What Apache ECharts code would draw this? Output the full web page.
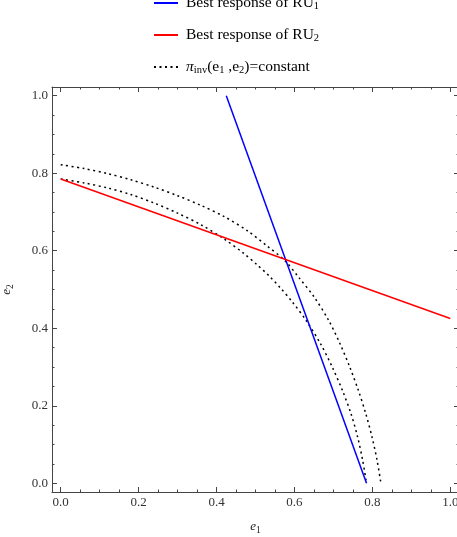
<!DOCTYPE html>
<html>
<head>
<meta charset="utf-8">
<script src="https://cdn.jsdelivr.net/npm/echarts@6/dist/echarts.min.js"></script>
<style>
  html, body { margin: 0; padding: 0; background: #fff; }
  #chart { width: 457px; height: 537px; }
</style>
</head>
<body>
<div id="chart"></div>
<script>
// 数据
const ru1Line = [[0.425, 1.0], [0.785, 0.0]];
const ru2Line = [[0.0, 0.785], [1.0, 0.425]];
const isoOuter = [
  [0, 0.822], [0.06, 0.812], [0.12, 0.799], [0.18, 0.783], [0.24, 0.764],
  [0.30, 0.742], [0.36, 0.717], [0.42, 0.688], [0.48, 0.651], [0.53, 0.612],
  [0.575, 0.575],
  [0.612, 0.53], [0.651, 0.48], [0.688, 0.42], [0.717, 0.36], [0.742, 0.30],
  [0.764, 0.24], [0.783, 0.18], [0.799, 0.12], [0.812, 0.06], [0.822, 0]
];
const isoInner = [
  [0, 0.785], [0.06, 0.775], [0.12, 0.762], [0.18, 0.745], [0.24, 0.723],
  [0.30, 0.697], [0.36, 0.667], [0.42, 0.630], [0.47, 0.593], [0.505, 0.563],
  [0.535, 0.535],
  [0.563, 0.505], [0.593, 0.47], [0.630, 0.42], [0.667, 0.36], [0.697, 0.30],
  [0.723, 0.24], [0.745, 0.18], [0.762, 0.12], [0.775, 0.06], [0.785, 0]
];
const majorTicks = [0, 0.2, 0.4, 0.6, 0.8, 1.0];
const minorTicks = [0.05, 0.1, 0.15, 0.25, 0.3, 0.35, 0.45, 0.5, 0.55, 0.65, 0.7, 0.75, 0.85, 0.9, 0.95];

const AX_MIN = -0.0224;
const AX_MAX = 1.0224;
const FRAME = '#444';
const SERIF = '"Liberation Serif", "DejaVu Serif", serif';

const legendRich = {
  sub: { fontSize: 10.5, fontFamily: SERIF, verticalAlign: 'bottom', padding: [7, 0, 0, 0], color: '#000' },
  it: { fontSize: 15.5, fontFamily: SERIF, fontStyle: 'italic', color: '#000' },
  n: { fontSize: 15.5, fontFamily: SERIF, color: '#000' }
};
const nameRich = {
  sub: { fontSize: 9.5, fontFamily: SERIF, verticalAlign: 'bottom', padding: [6, 0, 0, 0], color: '#222' },
  it: { fontSize: 13, fontFamily: SERIF, fontStyle: 'italic', color: '#222' }
};

// 一个方向上的坐标轴（主刻度 / 次刻度）
function makeAxis(position, ticks, len, showLine, showLabel, extra) {
  return Object.assign({
    type: 'value',
    position: position,
    min: AX_MIN,
    max: AX_MAX,
    splitLine: { show: false },
    axisLine: { show: showLine, onZero: false, lineStyle: { color: FRAME, width: 1 } },
    axisTick: { show: true, inside: true, length: len, customValues: ticks, lineStyle: { color: FRAME, width: 1 } },
    axisLabel: showLabel ? {
      customValues: majorTicks,
      margin: 4,
      color: '#333',
      fontFamily: SERIF,
      fontSize: 13,
      formatter: v => v.toFixed(1)
    } : { show: false }
  }, extra || {});
}

const chart = echarts.init(document.getElementById('chart'));
chart.setOption({
  animation: false,
  backgroundColor: '#fff',
  grid: { left: 52, right: -2, top: 87, bottom: 45, containLabel: false, outerBoundsMode: 'none' },
  legend: {
    orient: 'vertical',
    left: 153,
    top: -5,
    padding: 0,
    itemWidth: 24,
    itemHeight: 14,
    itemGap: 15,
    data: ['ru1', 'ru2', 'iso'],
    itemStyle: { color: 'transparent', borderWidth: 0, opacity: 0 },
    formatter: function (name) {
      if (name === 'ru1') return '{n|Best response of RU}{sub|1}';
      if (name === 'ru2') return '{n|Best response of RU}{sub|2}';
      return '{it|π}{sub|inv}{n|(e}{sub|1}{n| ,e}{sub|2}{n|)=constant}';
    },
    textStyle: { fontFamily: SERIF, fontSize: 15.5, color: '#000', padding: [0, 0, 0, 3], rich: legendRich }
  },
  xAxis: [
    makeAxis('bottom', majorTicks, 5, true, true, {
      name: '{it|e}{sub|1}',
      nameLocation: 'middle',
      nameGap: 27,
      nameTextStyle: { rich: nameRich }
    }),
    makeAxis('bottom', minorTicks, 2.5, false, false),
    makeAxis('top', majorTicks, 5, true, false),
    makeAxis('top', minorTicks, 2.5, false, false)
  ],
  yAxis: [
    makeAxis('left', majorTicks, 5, true, true, {
      name: '{it|e}{sub|2}',
      nameLocation: 'middle',
      nameGap: 37,
      nameTextStyle: { rich: nameRich }
    }),
    makeAxis('left', minorTicks, 2.5, false, false),
    makeAxis('right', majorTicks, 5, true, false),
    makeAxis('right', minorTicks, 2.5, false, false)
  ],
  series: [
    {
      name: 'ru1',
      type: 'line',
      data: ru1Line,
      symbol: 'none',
      lineStyle: { color: '#0000ff', width: 1.5 },
      itemStyle: { color: '#0000ff' },
      z: 3
    },
    {
      name: 'ru2',
      type: 'line',
      data: ru2Line,
      symbol: 'none',
      lineStyle: { color: '#ff0000', width: 1.5 },
      itemStyle: { color: '#ff0000' },
      z: 3
    },
    {
      name: 'iso',
      type: 'line',
      data: isoOuter,
      symbol: 'none',
      smooth: 0.3,
      lineStyle: { color: '#000', width: 1.5, type: [2, 3.5] },
      itemStyle: { color: '#000' },
      z: 2
    },
    {
      name: 'iso',
      type: 'line',
      data: isoInner,
      symbol: 'none',
      smooth: 0.3,
      lineStyle: { color: '#000', width: 1.5, type: [2, 3.5] },
      itemStyle: { color: '#000' },
      z: 2
    }
  ]
});
</script>
</body>
</html>
